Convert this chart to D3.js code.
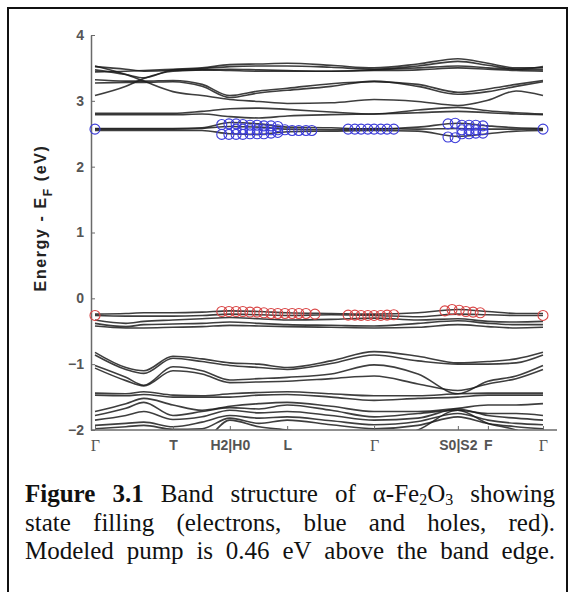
<!DOCTYPE html>
<html>
<head>
<meta charset="utf-8">
<script src="https://cdn.jsdelivr.net/npm/d3@7/dist/d3.min.js"></script>
<style>
  html, body { margin: 0; padding: 0; background: #fff; }
  svg { display: block; }
</style>
</head>
<body>
<svg id="chart" width="575" height="592"></svg>
<script>
// ---------------- DATA ----------------
// high-symmetry points along the k-path (fraction of path length)
const kTicks  = [0, 0.174, 0.301, 0.429, 0.623, 0.810, 0.877, 1.0];
const kLabels = ["Γ", "T", "H2|H0", "L", "Γ", "S0|S2", "F", "Γ"];
const yTicks  = [-2, -1, 0, 1, 2, 3, 4];

// k sample points at which band energies were read
const kPoints = [0, 0.069, 0.109, 0.174, 0.239, 0.301, 0.366, 0.429, 0.527, 0.623, 0.721, 0.810, 0.877, 0.940, 1.0];

// conduction bands (eV)
const conductionBands = [
  [2.55,2.55,2.55,2.55,2.55,2.50,2.49,2.53,2.54,2.55,2.54,2.46,2.50,2.54,2.55],
  [2.57,2.57,2.57,2.57,2.58,2.61,2.60,2.57,2.56,2.58,2.57,2.58,2.57,2.57,2.57],
  [2.58,2.58,2.58,2.58,2.59,2.67,2.65,2.60,2.59,2.57,2.60,2.66,2.62,2.59,2.58],
  [2.79,2.79,2.79,2.79,2.80,2.76,2.74,2.77,2.79,2.80,2.82,2.84,2.82,2.80,2.79],
  [2.81,2.81,2.81,2.81,2.84,2.88,2.89,2.87,2.83,2.80,2.86,2.90,2.85,2.82,2.80],
  [3.53,3.40,3.30,3.14,3.08,3.02,2.99,2.96,2.97,3.02,2.99,2.93,3.01,3.15,3.08],
  [3.27,3.28,3.28,3.29,3.22,3.05,3.12,3.16,3.22,3.30,3.22,3.10,3.14,3.22,3.29],
  [3.32,3.30,3.30,3.31,3.25,3.08,3.15,3.19,3.26,3.29,3.25,3.13,3.18,3.25,3.31],
  [3.08,3.22,3.34,3.45,3.47,3.48,3.47,3.46,3.45,3.46,3.47,3.50,3.48,3.46,3.45],
  [3.47,3.40,3.35,3.47,3.49,3.52,3.53,3.53,3.51,3.48,3.53,3.60,3.54,3.48,3.47],
  [3.44,3.45,3.46,3.48,3.50,3.55,3.56,3.57,3.54,3.50,3.56,3.64,3.57,3.50,3.50],
  [3.52,3.48,3.45,3.46,3.47,3.46,3.45,3.45,3.45,3.47,3.50,3.53,3.50,3.48,3.52]
];

// upper valence bands (eV)
const valenceBands = [
  [-0.24,-0.23,-0.22,-0.22,-0.21,-0.19,-0.20,-0.22,-0.23,-0.24,-0.22,-0.17,-0.20,-0.23,-0.23],
  [-0.26,-0.27,-0.27,-0.27,-0.26,-0.24,-0.25,-0.26,-0.25,-0.26,-0.28,-0.24,-0.25,-0.26,-0.26],
  [-0.33,-0.38,-0.35,-0.33,-0.31,-0.29,-0.31,-0.33,-0.32,-0.30,-0.33,-0.31,-0.35,-0.36,-0.35],
  [-0.38,-0.43,-0.40,-0.39,-0.38,-0.36,-0.38,-0.40,-0.41,-0.42,-0.38,-0.34,-0.38,-0.40,-0.40],
  [-0.42,-0.45,-0.45,-0.44,-0.43,-0.41,-0.42,-0.43,-0.44,-0.45,-0.44,-0.40,-0.43,-0.45,-0.44]
];

// lower valence bands (eV)
const lowerBands = [
  [-0.82,-1.05,-1.10,-0.88,-0.92,-0.98,-1.00,-1.05,-0.95,-0.81,-0.88,-0.98,-0.96,-0.92,-0.82],
  [-0.86,-1.08,-1.14,-0.91,-0.96,-1.02,-1.05,-1.08,-0.99,-0.86,-0.95,-1.00,-1.00,-0.98,-0.86],
  [-1.02,-1.20,-1.32,-1.04,-1.10,-1.24,-1.22,-1.20,-1.15,-1.01,-1.15,-1.45,-1.26,-1.18,-1.02],
  [-1.06,-1.25,-1.33,-1.10,-1.15,-1.28,-1.27,-1.26,-1.22,-1.18,-1.30,-1.40,-1.30,-1.22,-1.08],
  [-1.44,-1.45,-1.42,-1.47,-1.48,-1.45,-1.43,-1.42,-1.45,-1.48,-1.48,-1.45,-1.44,-1.44,-1.44],
  [-1.47,-1.48,-1.46,-1.50,-1.50,-1.50,-1.47,-1.46,-1.50,-1.55,-1.52,-1.50,-1.47,-1.47,-1.47],
  [-1.72,-1.60,-1.52,-1.62,-1.70,-1.64,-1.60,-1.58,-1.64,-1.72,-1.72,-1.67,-1.62,-1.62,-1.60],
  [-1.78,-1.67,-1.58,-1.78,-1.72,-1.66,-1.68,-1.62,-1.70,-1.80,-1.75,-1.70,-1.75,-1.75,-1.78],
  [-1.85,-1.78,-1.72,-1.84,-1.80,-1.70,-1.74,-1.72,-1.78,-1.85,-1.82,-1.68,-1.78,-1.82,-1.85],
  [-1.93,-1.90,-1.88,-1.95,-1.88,-1.78,-1.82,-1.80,-1.86,-1.92,-1.87,-1.75,-1.85,-1.90,-1.92],
  [-1.98,-1.95,-1.93,-1.99,-1.98,-1.82,-1.90,-1.85,-1.92,-1.98,-1.93,-1.80,-1.90,-1.95,-1.98],
  [-2.30,-2.20,-2.10,-2.30,-2.20,-1.85,-1.95,-2.00,-2.10,-2.20,-2.00,-1.70,-1.90,-2.00,-2.20]
];

// electron state filling (blue circles): k and E
const electronK = [0,
  0.283,0.299,0.315,0.330,0.346,0.362,0.377,0.393,0.408,
  0.283,0.299,0.315,0.330,0.346,0.362,0.377,0.393,0.408,
  0.315,0.330,0.346,0.362,0.377,0.393,0.408,
  0.424,0.440,0.455,0.471,0.484,
  0.565,0.580,0.594,0.609,0.623,0.638,0.652,0.667,
  0.788,0.804,0.788,0.804,0.819,0.835,0.850,0.866,0.819,0.835,0.850,0.866,0.819,0.835,0.850,0.866,
  1.0];
const electronE = [2.57,
  2.64,2.65,2.65,2.64,2.63,2.63,2.62,2.62,2.61,
  2.49,2.49,2.49,2.49,2.50,2.50,2.50,2.51,2.52,
  2.57,2.57,2.56,2.56,2.56,2.56,2.56,
  2.56,2.55,2.55,2.55,2.55,
  2.57,2.57,2.57,2.57,2.57,2.57,2.57,2.57,
  2.65,2.66,2.45,2.44,2.63,2.63,2.63,2.62,2.56,2.56,2.56,2.56,2.50,2.50,2.51,2.51,
  2.57];

// hole state filling (red circles): k and E
const holeK = [0,
  0.283,0.299,0.315,0.330,0.346,0.362,0.377,0.393,0.408,0.424,0.440,0.455,0.471,0.491,
  0.565,0.580,0.594,0.609,0.623,0.638,0.652,0.667,
  0.781,0.797,0.813,0.828,0.844,0.860,
  1.0];
const holeE = [-0.26,
  -0.20,-0.20,-0.20,-0.20,-0.21,-0.21,-0.22,-0.23,-0.23,-0.23,-0.23,-0.23,-0.23,-0.24,
  -0.255,-0.255,-0.26,-0.26,-0.26,-0.26,-0.255,-0.25,
  -0.19,-0.17,-0.18,-0.20,-0.21,-0.22,
  -0.26];

const yLabelText = ["Energy - E", "F", " (eV)"];
const captionLines = [
  "**Figure** **3.1** Band structure of α-Fe_2O_3 showing",
  "state filling (electrons, blue and holes, red).",
  "Modeled pump is 0.46 eV above the band edge."
];

// ---------------- DRAW ----------------
const svg = d3.select("#chart");
const sans = "'Liberation Sans', Arial, Helvetica, sans-serif";
const serif = "'Liberation Serif', 'Times New Roman', Times, serif";

// outer frame
svg.append("rect").attr("x", 8).attr("y", 8).attr("width", 559).attr("height", 620)
  .attr("fill", "none").attr("stroke", "#111").attr("stroke-width", 2);

const x = d3.scaleLinear().domain([-0.0089, 1.0313]).range([91, 557]);
const y = d3.scaleLinear().domain([-2, 4]).range([430, 35]);

svg.append("clipPath").attr("id", "plotclip")
  .append("rect").attr("x", 91).attr("y", 30).attr("width", 466).attr("height", 400);

const line = d3.line()
  .x((d, i) => x(kPoints[i]))
  .y(d => y(d))
  .curve(d3.curveMonotoneX);

const bandG = svg.append("g").attr("clip-path", "url(#plotclip)");
const allBands = conductionBands.concat(valenceBands, lowerBands);
bandG.selectAll("path.band").data(allBands).join("path")
  .attr("class", "band")
  .attr("d", line)
  .attr("fill", "none")
  .attr("stroke", "#1c1c1c")
  .attr("stroke-width", 1.6)
  .attr("stroke-opacity", 0.85);

// axes
const axisColor = "#6a6a6a";
const xAxis = d3.axisBottom(x).tickValues(kTicks).tickFormat((d, i) => kLabels[i])
  .tickSizeInner(-4).tickSizeOuter(0).tickPadding(10);
const yAxis = d3.axisLeft(y).tickValues(yTicks).tickFormat(d3.format("d"))
  .tickSizeInner(-4).tickSizeOuter(0).tickPadding(7);

const gx = svg.append("g").attr("transform", "translate(0,430)").call(xAxis);
const gy = svg.append("g").attr("transform", "translate(91,0)").call(yAxis);
[gx, gy].forEach(g => {
  g.select(".domain").attr("stroke", axisColor).attr("stroke-width", 1.5);
  g.selectAll(".tick line").attr("stroke", axisColor).attr("stroke-width", 1);
  g.selectAll(".tick text").attr("fill", "#555").attr("font-family", sans)
    .attr("font-size", 14).attr("font-weight", "bold");
});
gx.select(".domain").attr("d", "M91,0H557");
// Gamma labels in a serif face as in the reference
gx.selectAll(".tick text").filter(function () { return this.textContent === "Γ"; })
  .attr("font-family", serif).attr("font-weight", "normal").attr("font-size", 16);

// y-axis title
const yt = svg.append("text")
  .attr("transform", "translate(46,218) rotate(-90)")
  .attr("text-anchor", "middle")
  .attr("font-family", sans)
  .attr("font-size", 16).attr("font-weight", "bold").attr("fill", "#222")
  .attr("letter-spacing", 1.6);
yt.append("tspan").text(yLabelText[0]);
yt.append("tspan").attr("dy", 6).attr("font-size", 12).text(yLabelText[1]);
yt.append("tspan").attr("dy", -6).text(yLabelText[2]);

// state filling circles
svg.append("g").selectAll("circle").data(electronK).join("circle")
  .attr("cx", d => x(d)).attr("cy", (d, i) => y(electronE[i])).attr("r", 5)
  .attr("fill", "none").attr("stroke", "#3b3bd9").attr("stroke-width", 1.1);
svg.append("g").selectAll("circle").data(holeK).join("circle")
  .attr("cx", d => x(d)).attr("cy", (d, i) => y(holeE[i])).attr("r", 5)
  .attr("fill", "none").attr("stroke", "#d94545").attr("stroke-width", 1.1);

// caption, justified word by word
const capLeft = 25, capRight = 555, capFont = 25;
const capBase = [502, 531, 559];
const subShift = 3;
captionLines.forEach((ln, li) => {
  const words = ln.split(" ");
  const nodes = words.map(w => {
    const t = svg.append("text").attr("y", capBase[li])
      .attr("font-family", serif)
      .attr("font-size", capFont).attr("fill", "#111");
    let bold = false;
    if (w.startsWith("**")) { bold = true; w = w.replace(/\*\*/g, ""); }
    if (bold) t.attr("font-weight", "bold");
    const parts = w.split(/(_\d)/).filter(p => p.length);
    let shifted = false;
    parts.forEach(p => {
      if (p.startsWith("_")) {
        t.append("tspan").attr("dy", shifted ? 0 : subShift).attr("font-size", capFont * 0.64).text(p.slice(1));
        shifted = true;
      } else {
        t.append("tspan").attr("dy", shifted ? -subShift : 0).text(p);
        shifted = false;
      }
    });
    return t;
  });
  const widths = nodes.map(n => n.node().getComputedTextLength());
  const total = d3.sum(widths);
  const gap = (capRight - capLeft - total) / (nodes.length - 1);
  let cx = capLeft;
  nodes.forEach((n, i) => { n.attr("x", cx); cx += widths[i] + gap; });
});
</script>
</body>
</html>
